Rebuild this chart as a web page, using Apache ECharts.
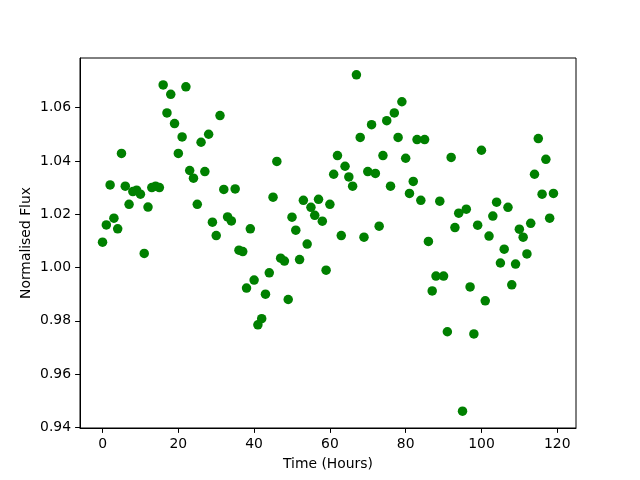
<!DOCTYPE html>
<html>
<head>
<meta charset="utf-8">
<script src="https://cdn.jsdelivr.net/npm/echarts@6/dist/echarts.min.js"></script>
<style>html,body{margin:0;padding:0;background:#fff}#c{width:640px;height:480px}</style>
</head>
<body>
<div id="c"></div>
<script>
const hours = [];
for (let i = 0; i < 120; i++) hours.push(i);
const flux = [
  1.0095, 1.0160, 1.0310, 1.0185, 1.0145, 1.0428, 1.0305, 1.0237, 1.0285, 1.0290,
  1.0275, 1.0053, 1.0227, 1.0300, 1.0305, 1.0300, 1.0685, 1.0580, 1.0650, 1.0540,
  1.0428, 1.0490, 1.0678, 1.0364, 1.0335, 1.0237, 1.0470, 1.0360, 1.0500, 1.0170,
  1.0120, 1.0570, 1.0293, 1.0190, 1.0175, 1.0295, 1.0065, 1.0060, 0.9923, 1.0145,
  0.9953, 0.9785, 0.9808, 0.9900, 0.9980, 1.0264, 1.0398, 1.0035, 1.0024, 0.9880,
  1.0189, 1.0140, 1.0030, 1.0252, 1.0088, 1.0226, 1.0196, 1.0256, 1.0174, 0.9990,
  1.0237, 1.0350, 1.0420, 1.0120, 1.0380, 1.0340, 1.0305, 1.0723, 1.0488, 1.0114,
  1.0360, 1.0536, 1.0353, 1.0155, 1.0420, 1.0551, 1.0305, 1.0580, 1.0488, 1.0622,
  1.0410, 1.0278, 1.0323, 1.0480, 1.0252, 1.0480, 1.0098, 0.9912, 0.9968, 1.0249,
  0.9968, 0.9759, 1.0413, 1.0150, 1.0204, 0.9461, 1.0219, 0.9927, 0.9751, 1.0159,
  1.0440, 0.9875, 1.0118, 1.0193, 1.0245, 1.0017, 1.0069, 1.0226, 0.9935, 1.0013,
  1.0144, 1.0114, 1.0051, 1.0166, 1.0350, 1.0484, 1.0275, 1.0406, 1.0185, 1.0278
];
const xTicks = [0, 20, 40, 60, 80, 100, 120];
const yTicks = [0.94, 0.96, 0.98, 1.00, 1.02, 1.04, 1.06];

const xMinD = Math.min(...hours), xMaxD = Math.max(...hours);
const yMinD = Math.min(...flux), yMaxD = Math.max(...flux);
const xPad = (xMaxD - xMinD) * 0.05, yPad = (yMaxD - yMinD) * 0.05;

const font = 'DejaVu Sans';
const chart = echarts.init(document.getElementById('c'), null, {renderer: 'canvas'});
chart.setOption({
  animation: false,
  grid: {left: 80, right: 64, top: 58, bottom: 52, show: true, borderColor: '#000', borderWidth: 1, containLabel: false},
  xAxis: {
    type: 'value', min: xMinD - xPad, max: xMaxD + xPad,
    name: 'Time (Hours)', nameLocation: 'middle', nameGap: 29, nameMoveOverlap: false,
    nameTextStyle: {fontFamily: font, fontSize: 13.9, color: '#000'},
    axisLine: {show: true, onZero: false, lineStyle: {color: '#000', width: 1}},
    axisTick: {show: true, inside: false, length: 4.9, customValues: xTicks, lineStyle: {color: '#000'}},
    axisLabel: {customValues: xTicks, margin: 9, fontFamily: font, fontSize: 13.9, color: '#000', formatter: v => String(Math.round(v))},
    splitLine: {show: false}
  },
  yAxis: {
    type: 'value', min: yMinD - yPad, max: yMaxD + yPad,
    name: 'Normalised Flux', nameLocation: 'middle', nameGap: 47, nameMoveOverlap: false,
    nameTextStyle: {fontFamily: font, fontSize: 13.9, color: '#000'},
    axisLine: {show: true, onZero: false, lineStyle: {color: '#000', width: 1}},
    axisTick: {show: true, inside: false, length: 4.9, customValues: yTicks, lineStyle: {color: '#000'}},
    axisLabel: {customValues: yTicks, margin: 9, fontFamily: font, fontSize: 13.9, color: '#000', formatter: v => v.toFixed(2)},
    splitLine: {show: false}
  },
  series: [{
    type: 'scatter',
    data: hours.map((h, i) => [h, flux[i]]),
    symbol: 'circle', symbolSize: 9.5,
    itemStyle: {color: '#008000', opacity: 1},
    emphasis: {disabled: true}
  }]
});
</script>
</body>
</html>
